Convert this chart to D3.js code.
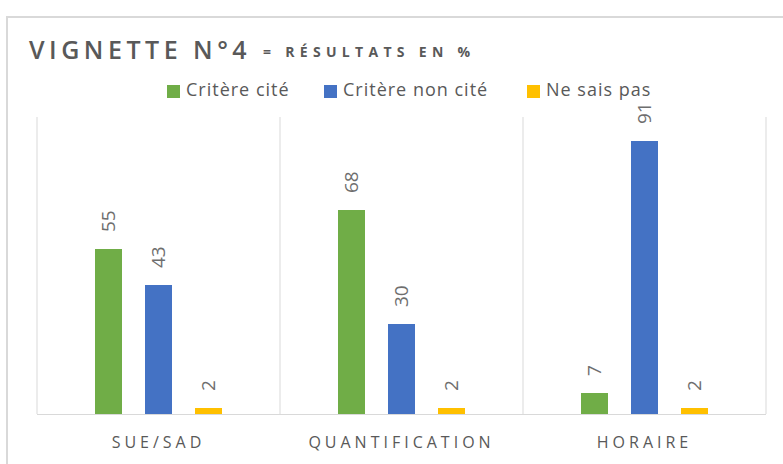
<!DOCTYPE html>
<html>
<head>
<meta charset="utf-8">
<script src="https://cdn.jsdelivr.net/npm/d3@7"></script>
<style>
  body { margin: 0; background: #fff; }
  svg { display: block; font-family: "Open Sans", sans-serif; }
</style>
</head>
<body>
<svg id="canvas" width="783" height="464"></svg>
<script>
let categories = ['SUE/SAD', 'QUANTIFICATION', 'HORAIRE']
let seriesNames = ['Critère cité', 'Critère non cité', 'Ne sais pas']
let seriesColors = ['#70ad47', '#4472c4', '#ffc000']
let citeValues = [55, 68, 7]
let nonCiteValues = [43, 30, 91]
let nspValues = [2, 2, 2]

let svg = d3.select('#canvas')
let plotLeft = 37, plotRight = 766, plotTop = 114, plotBottom = 414

// frame
svg.append('rect')
    .attr('x', 7).attr('y', 17)
    .attr('width', 800).attr('height', 500)
    .attr('fill', 'none')
    .attr('stroke', '#d9d9d9')
    .attr('stroke-width', 2)

// title
svg.append('text')
    .attr('x', 29).attr('y', 59)
    .attr('fill', '#595959')
    .attr('font-weight', 600)
    .attr('font-size', 25)
    .attr('letter-spacing', 4.5)
    .text('VIGNETTE N°4')
svg.append('text')
    .attr('x', 263).attr('y', 57)
    .attr('fill', '#595959')
    .attr('font-weight', 'bold')
    .attr('font-size', 14)
    .attr('letter-spacing', 5.3)
    .text('= RÉSULTATS EN %')

// legend
let legendX = [167, 324, 527]
let legend = svg.selectAll('.legend')
    .data(seriesNames)
    .enter()
    .append('g')
    .attr('class', 'legend')
    .attr('transform', (d, i) => `translate(${legendX[i]}, 85)`)
legend.append('rect')
    .attr('width', 13).attr('height', 13)
    .attr('fill', (d, i) => seriesColors[i])
legend.append('text')
    .attr('x', 19).attr('y', 11)
    .attr('font-size', 18)
    .attr('letter-spacing', 1)
    .attr('fill', '#595959')
    .text(d => d)

let x = d3.scaleBand().domain(categories).range([plotLeft, plotRight])
let y = d3.scaleLinear().domain([0, 100]).range([plotBottom, plotTop])
let offsets = d3.scalePoint().domain(seriesNames).range([-50, 50])
let barWidth = 27

// vertical separators
svg.selectAll('.sep')
    .data(d3.range(categories.length + 1))
    .enter()
    .append('line')
    .attr('x1', i => plotLeft + i * x.bandwidth())
    .attr('x2', i => plotLeft + i * x.bandwidth())
    .attr('y1', 117).attr('y2', plotBottom)
    .attr('stroke', '#d9d9d9')

// baseline
svg.append('line')
    .attr('x1', plotLeft).attr('x2', plotRight)
    .attr('y1', plotBottom + 0.5).attr('y2', plotBottom + 0.5)
    .attr('stroke', '#d9d9d9')

let series = [citeValues, nonCiteValues, nspValues]
let rows = []
series.forEach((vals, s) => {
    vals.forEach((v, c) => rows.push({ cat: categories[c], name: seriesNames[s], s: s, value: v }))
})

let cx = d => x(d.cat) + x.bandwidth() / 2 + offsets(d.name)

svg.selectAll('.bar')
    .data(rows)
    .enter()
    .append('rect')
    .attr('class', 'bar')
    .attr('x', d => cx(d) - barWidth / 2)
    .attr('y', d => y(d.value))
    .attr('width', barWidth)
    .attr('height', d => plotBottom - y(d.value))
    .attr('fill', d => seriesColors[d.s])

svg.selectAll('.lbl')
    .data(rows)
    .enter()
    .append('text')
    .attr('class', 'lbl')
    .attr('transform', d => `translate(${cx(d)}, ${y(d.value) - 17}) rotate(-90)`)
    .attr('dy', '0.36em')
    .attr('font-size', 19)
    .attr('fill', '#6e6e6e')
    .text(d => d.value)

// category labels
svg.selectAll('.cat')
    .data(categories)
    .enter()
    .append('text')
    .attr('class', 'cat')
    .attr('x', d => x(d) + x.bandwidth() / 2)
    .attr('y', 448)
    .attr('text-anchor', 'middle')
    .attr('font-size', 16)
    .attr('letter-spacing', 4)
    .attr('fill', '#595959')
    .text(d => d)
</script>
</body>
</html>
